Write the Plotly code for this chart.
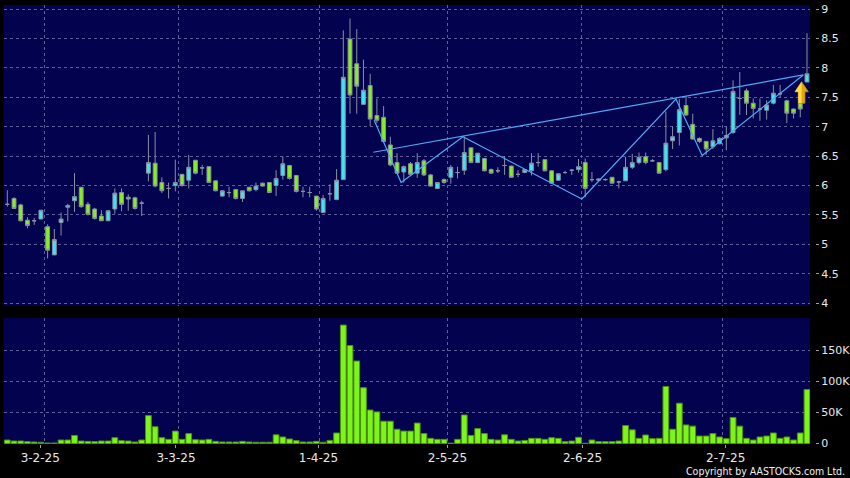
import plotly.graph_objects as go

# ---------------- data ----------------
tick_labels = ["3-2-25", "3-3-25", "1-4-25", "2-5-25", "2-6-25", "2-7-25"]
tick_pos = [4.9, 25.1, 46.3, 65.5, 85.6, 106.9]       # in trading-day index units
grid_pos = [5.5, 25.45, 46.45, 65.5, 85.5, 106.4]

opens = [5.68, 5.78, 5.67, 5.41, 5.40, 5.43, 5.30, 4.82, 5.37, 5.63,
         5.74, 5.97, 5.68, 5.60, 5.48, 5.40, 5.60, 5.88, 5.77, 5.79,
         5.70, 6.21, 6.38, 6.05, 5.95, 6.00, 6.19, 6.09, 6.43, 6.30,
         6.32, 6.08, 5.82, 5.88, 5.93, 5.78, 5.97, 5.93, 6.04, 6.05,
         6.00, 6.17, 6.34, 6.17, 5.90, 5.88, 5.82, 5.54, 5.86, 5.76,
         6.10, 8.49, 8.07, 7.38, 7.70, 7.19, 7.16, 6.69, 6.39, 6.23,
         6.37, 6.21, 6.42, 6.18, 5.95, 6.10, 6.14, 6.22, 6.26, 6.64,
         6.39, 6.46, 6.27, 6.25, 6.34, 6.33, 6.19, 6.22, 6.25, 6.39,
         6.44, 6.25, 6.09, 6.22, 6.26, 6.27, 6.39, 6.10, 6.09, 6.10,
         6.14, 6.06, 6.08, 6.31, 6.39, 6.49, 6.42, 6.39, 6.27, 6.76,
         6.90, 7.36, 7.04, 6.80, 6.75, 6.66, 6.71, 6.81, 6.90, 7.48,
         7.61, 7.40, 7.30, 7.28, 7.40, 7.56, 7.44, 7.30, 7.40, 7.76]
closes = [5.68, 5.61, 5.40, 5.32, 5.40, 5.58, 4.90, 5.08, 5.43, 5.66,
          5.81, 5.64, 5.51, 5.44, 5.40, 5.57, 5.87, 5.68, 5.80, 5.61,
          5.70, 6.39, 5.99, 5.91, 5.95, 6.05, 6.00, 6.31, 6.21, 6.30,
          6.05, 5.91, 5.91, 5.88, 5.78, 5.91, 5.91, 5.99, 5.99, 5.88,
          6.12, 6.37, 6.12, 5.90, 5.90, 5.88, 5.60, 5.78, 5.86, 6.09,
          7.84, 7.54, 7.69, 7.62, 7.13, 7.11, 6.75, 6.35, 6.21, 6.32,
          6.19, 6.39, 6.18, 5.99, 6.05, 6.05, 6.31, 6.22, 6.56, 6.39,
          6.55, 6.25, 6.21, 6.25, 6.34, 6.14, 6.19, 6.27, 6.38, 6.39,
          6.25, 6.04, 6.20, 6.22, 6.26, 6.32, 5.95, 6.10, 6.11, 6.10,
          6.04, 6.06, 6.31, 6.39, 6.48, 6.39, 6.42, 6.21, 6.72, 6.83,
          7.29, 7.20, 6.79, 6.75, 6.62, 6.76, 6.80, 6.85, 7.60, 7.48,
          7.40, 7.31, 7.30, 7.37, 7.57, 7.56, 7.23, 7.23, 7.30, 7.90]
highs = [5.92, 5.80, 5.69, 5.46, 5.45, 5.58, 5.34, 5.26, 5.54, 5.69,
         6.21, 5.97, 5.72, 5.62, 5.58, 5.58, 5.95, 5.95, 5.85, 5.81,
         5.74, 6.86, 6.91, 6.14, 6.05, 6.44, 6.19, 6.52, 6.43, 6.35,
         6.33, 6.08, 5.92, 5.98, 5.94, 5.91, 5.98, 6.05, 6.05, 6.06,
         6.26, 6.49, 6.35, 6.18, 5.98, 5.98, 5.82, 5.84, 6.02, 6.28,
         8.64, 8.84, 8.66, 8.14, 7.90, 7.48, 7.35, 6.83, 6.55, 6.34,
         6.40, 6.55, 6.45, 6.20, 6.06, 6.12, 6.35, 6.32, 6.83, 6.64,
         6.55, 6.47, 6.29, 6.31, 6.50, 6.34, 6.26, 6.28, 6.55, 6.55,
         6.45, 6.26, 6.21, 6.25, 6.28, 6.45, 6.46, 6.23, 6.12, 6.12,
         6.14, 6.08, 6.49, 6.54, 6.56, 6.56, 6.45, 6.40, 7.26, 7.00,
         7.47, 7.51, 7.22, 6.82, 6.76, 6.96, 6.82, 7.00, 7.79, 7.93,
         7.65, 7.48, 7.48, 7.45, 7.71, 7.71, 7.46, 7.31, 7.42, 8.59]
lows = [5.64, 5.60, 5.39, 5.27, 5.33, 5.43, 4.76, 4.82, 5.15, 5.39,
        5.55, 5.62, 5.49, 5.42, 5.40, 5.40, 5.52, 5.56, 5.57, 5.59,
        5.48, 6.07, 5.97, 5.87, 5.78, 5.90, 5.98, 5.95, 6.19, 6.18,
        6.04, 5.90, 5.81, 5.80, 5.76, 5.72, 5.90, 5.90, 5.98, 5.87,
        5.82, 6.10, 6.10, 5.88, 5.80, 5.80, 5.57, 5.54, 5.74, 5.76,
        6.10, 7.22, 7.22, 7.38, 7.01, 7.06, 6.75, 6.33, 6.20, 6.05,
        6.17, 6.13, 6.16, 5.98, 5.94, 6.03, 6.03, 6.12, 6.18, 6.38,
        6.38, 6.24, 6.20, 6.21, 6.18, 6.13, 6.14, 6.21, 6.17, 6.32,
        6.24, 6.03, 6.08, 6.20, 6.18, 6.22, 5.80, 6.06, 6.08, 6.08,
        6.03, 5.95, 6.08, 6.28, 6.36, 6.36, 6.40, 6.20, 6.24, 6.62,
        6.68, 7.18, 6.78, 6.72, 6.52, 6.62, 6.70, 6.60, 6.88, 7.20,
        7.20, 7.14, 7.10, 7.12, 7.38, 7.50, 7.06, 7.14, 7.16, 7.76]
volumes_k = [5.6, 4, 4, 3, 2.4, 2, 0.8, 0.8, 5.6, 5.6,
             13, 4, 3.5, 3, 4, 4, 9.4, 4.6, 4, 2.4,
             5.6, 45, 27, 9.4, 6.7, 20, 6.7, 16, 6.2, 5.6,
             6.7, 3.5, 2.4, 2.4, 2.4, 3.5, 2.4, 2, 2, 2,
             14, 10.5, 7.3, 4.6, 2.4, 2.4, 3.5, 2, 5, 17,
             191, 158, 133, 90, 54, 51, 36, 36, 23, 20,
             20, 33, 16, 8.3, 6.7, 6.7, 0.5, 6.7, 46, 13,
             24, 16, 6.7, 5.6, 14, 6.7, 4, 5, 8.3, 8.3,
             6.7, 9.4, 8.3, 3, 4, 10, 0.3, 5.6, 3, 3,
             3, 4, 29, 22, 8.3, 13.7, 7.8, 8.3, 92, 23,
             65, 30, 28, 12, 12, 16, 10.5, 7.8, 42, 28,
             8.3, 5.6, 10.5, 12, 17, 8.3, 10.5, 5.6, 17, 87]
volumes = [v * 1000 for v in volumes_k]

# hand-drawn analysis lines (index units, price)
zigzag_x = [54.6, 58.6, 67.8, 85.5, 99.5, 103.4, 118.45]
zigzag_y = [7.11, 6.05, 6.83, 5.77, 7.47, 6.51, 7.88]
trend_x = [54.46, 118.45]
trend_y = [6.565, 7.88]

price_ticks = [4, 4.5, 5, 5.5, 6, 6.5, 7, 7.5, 8, 8.5, 9]
vol_ticks = [0, 50000, 100000, 150000]
vol_tick_text = ["0", "50K", "100K", "150K"]

x = list(range(len(opens)))

# ---------------- styles ----------------
NAVY = "#02024f"
GRID = "#5e5e98"
UP_FILL = "#3fe3f2"
DN_FILL = "#86f01e"
EDGE = "#8a8fa0"
VOL_FILL = "#7ef51a"
VOL_EDGE = "#4c9010"
LINE_BLUE = "#4fa8f5"
FONT = "DejaVu Sans"
TXT = "#e8e8e8"

W, H = 850, 478
L_PX, R_PX = 3.5, 810
MAIN_T, MAIN_B = 5, 306
VOL_T, VOL_B = 318, 444

fig = go.Figure()

fig.add_trace(go.Candlestick(
    x=x, open=opens, high=highs, low=lows, close=closes,
    increasing=dict(fillcolor=UP_FILL, line=dict(color=EDGE, width=1)),
    decreasing=dict(fillcolor=DN_FILL, line=dict(color=EDGE, width=1)),
    xaxis="x", yaxis="y", showlegend=False, hoverinfo="skip"))

fig.add_trace(go.Scatter(x=trend_x, y=trend_y, mode="lines",
                         line=dict(color=LINE_BLUE, width=1.2),
                         xaxis="x", yaxis="y", showlegend=False, hoverinfo="skip"))
fig.add_trace(go.Scatter(x=zigzag_x, y=zigzag_y, mode="lines",
                         line=dict(color=LINE_BLUE, width=1.2),
                         xaxis="x", yaxis="y", showlegend=False, hoverinfo="skip"))

# yellow up-arrow marker on the last-but-one candle
ax_c, ax_b, ax_t = 118.2, 7.40, 7.765
neck = ax_b + (ax_t - ax_b) * 0.53
arrow_x = [ax_c - 0.5, ax_c + 0.5, ax_c + 0.5, ax_c + 1.0, ax_c, ax_c - 1.0, ax_c - 0.5, ax_c - 0.5]
arrow_y = [ax_b, ax_b, neck, neck, ax_t, neck, neck, ax_b]
fig.add_trace(go.Scatter(x=arrow_x, y=arrow_y, mode="lines", fill="toself",
                         fillcolor="#e0a80c", line=dict(color="#b88a08", width=0.8),
                         xaxis="x", yaxis="y", showlegend=False, hoverinfo="skip"))
hl_x = [ax_c - 0.5, ax_c, ax_c, ax_c - 1.0, ax_c - 0.5, ax_c - 0.5]
hl_y = [ax_b, ax_b, ax_t, neck, neck, ax_b]
fig.add_trace(go.Scatter(x=hl_x, y=hl_y, mode="lines", fill="toself",
                         fillcolor="#ffd94a", line=dict(width=0),
                         xaxis="x", yaxis="y", showlegend=False, hoverinfo="skip"))

fig.add_trace(go.Bar(x=x, y=volumes, marker=dict(color=VOL_FILL, line=dict(color=VOL_EDGE, width=1)),
                     xaxis="x2", yaxis="y2", showlegend=False, hoverinfo="skip"))

xr = [(L_PX - 7.3) / 6.72, (R_PX - 7.3) / 6.72]
xdom = [L_PX / W, R_PX / W]
ypos = 815 / W

grid_common = dict(showgrid=True, gridcolor=GRID, griddash="3px,3px", gridwidth=1)

fig.update_layout(
    autosize=True,
    margin=dict(l=0, r=0, t=0, b=0, pad=0, autoexpand=False),
    paper_bgcolor="black", plot_bgcolor=NAVY,
    boxgap=0.18, bargap=0.14,
    font=dict(family=FONT, color=TXT, size=11),
    xaxis=dict(domain=xdom, range=xr, anchor="y", rangeslider=dict(visible=False),
               automargin=False,
               tickmode="array", tickvals=grid_pos, showticklabels=False, ticks="",
               zeroline=False, showline=False, **grid_common),
    yaxis=dict(domain=[1 - MAIN_B / H, 1 - MAIN_T / H],
               range=[6 - (MAIN_B - 185.5) / 58.8, 6 - (MAIN_T - 185.5) / 58.8],
               side="right", anchor="free", position=ypos, automargin=False,
               tickmode="array", tickvals=price_ticks, ticktext=[f"{v:g}" for v in price_ticks],
               ticks="outside", ticklen=3, tickcolor="#a0a0a0", tickwidth=1,
               tickfont=dict(family=FONT, size=11, color=TXT),
               zeroline=False, showline=False, **grid_common),
    xaxis2=dict(domain=xdom, range=xr, anchor="y2", matches="x", automargin=False,
                tickmode="array", tickvals=tick_pos, ticktext=tick_labels,
                ticks="outside", ticklen=3, tickcolor="#a0a0a0",
                tickfont=dict(family=FONT, size=12, color=TXT),
                showgrid=False, zeroline=False, showline=False,
                minor=dict(tickmode="array", tickvals=grid_pos, ticks="",
                           showgrid=True, gridcolor=GRID, griddash="3px,3px", gridwidth=1)),
    yaxis2=dict(domain=[1 - VOL_B / H, 1 - VOL_T / H],
                range=[-(VOL_B - 443.5) / 31 * 50000, (443.5 - VOL_T) / 31 * 50000],
                side="right", anchor="free", position=ypos, automargin=False,
                tickmode="array", tickvals=vol_ticks, ticktext=vol_tick_text,
                ticks="outside", ticklen=3, tickcolor="#a0a0a0", tickwidth=1,
                tickfont=dict(family=FONT, size=11, color=TXT),
                zeroline=False, showline=False, **grid_common),
    annotations=[dict(text="Copyright by AASTOCKS.com Ltd.", xref="paper", yref="paper",
                      x=847 / W, y=1 - 471 / H, xanchor="right", yanchor="middle",
                      showarrow=False, font=dict(family="DejaVu Sans Condensed, Liberation Sans", size=10.5, color="#f0f0f0"))],
)

post_js = (
    "var st=document.createElement('style');"
    "st.innerHTML='html,body{margin:0;padding:0;width:100%;height:100%;overflow:hidden;background:#000}"
    "body>div{width:100%;height:100%}';"
    "document.head.appendChild(st);"
    "var gd=document.getElementById('{plot_id}');"
    "gd.style.width='100%';gd.style.height='100%';"
    "Plotly.Plots.resize(gd);"
)

fig.write_html("out.html", config={"displayModeBar": False},
               default_width="100%", default_height="100%",
               post_script=post_js)
